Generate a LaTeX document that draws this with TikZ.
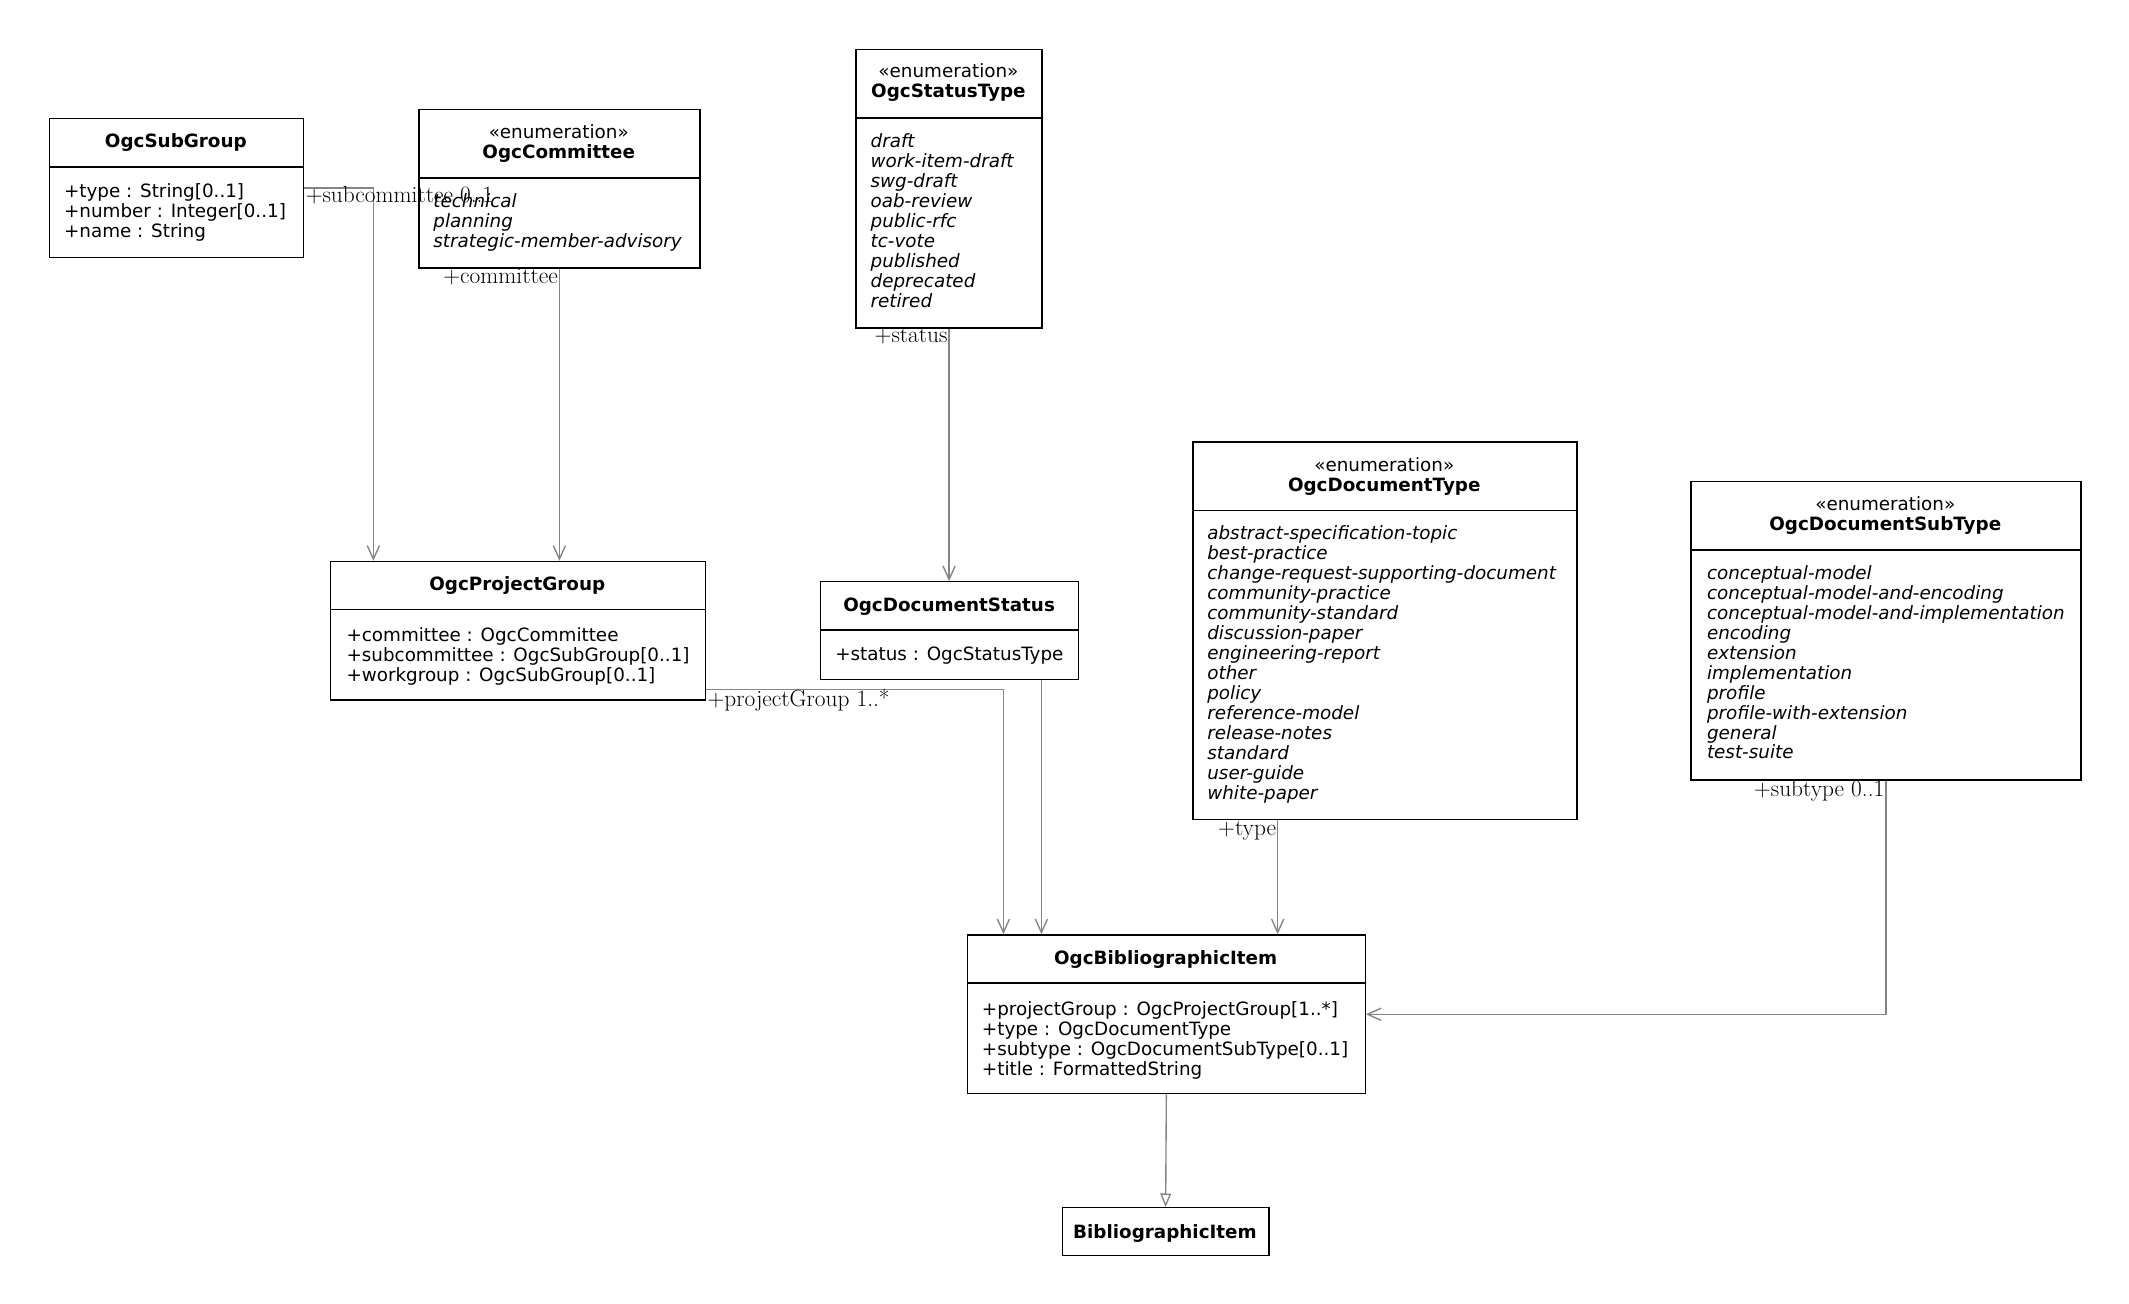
\documentclass[tikz,border=0pt]{standalone}
\usepackage{fontspec}
\newfontfamily\boxfont{DejaVu Sans}
\usetikzlibrary{arrows.meta}
\definecolor{edgegray}{HTML}{858585}
\tikzset{
  cls/.style={draw=black, line width=1pt, fill=white, inner sep=0pt, anchor=north west},
  divider/.style={draw=black, line width=1pt},
  ttl/.style={font=\boxfont\fontsize{13.5}{14.7}\selectfont\bfseries, inner sep=0pt, anchor=base, yshift=-1pt},
  stereo/.style={font=\boxfont\fontsize{13.5}{14.7}\selectfont, inner sep=0pt, anchor=north, align=center, yshift=-1pt},
  attr/.style={font=\boxfont\fontsize{13.5}{14.7}\selectfont, inner sep=0pt, anchor=north west, align=left, yshift=-1pt},
  lit/.style={font=\boxfont\fontsize{13.5}{14.7}\selectfont\itshape, inner sep=0pt, anchor=north west, align=left, yshift=-1pt},
  lbl/.style={font=\fontsize{17.2}{20}\selectfont, inner sep=0pt},
  assoc/.style={draw=edgegray, line width=1pt, -{Straight Barb[length=10pt,width=9pt]}},
  gen/.style={draw=edgegray, line width=1pt, -{Triangle[open, length=10pt, width=8pt, fill=white]}}
}
\begin{document}
\begin{tikzpicture}[x=1pt,y=-1pt]
\fill[white] (0,0) rectangle (1568,960.3);
\useasboundingbox (0,0) rectangle (1568,960.3);

% OgcSubGroup
\node[cls, minimum width=187pt, minimum height=102pt] (sub) at (36,87) {};
\draw[divider] (36,123) -- (223,123);
\node[ttl] (subT) at (129.5,108) {OgcSubGroup};
\node[attr] (subA) at (47,134.2) {\strut+type : String[0..1]\\+number : Integer[0..1]\\+name : String};

% OgcCommittee
\node[cls, minimum width=207pt, minimum height=117pt] (comm) at (308,80) {};
\draw[divider] (308,131) -- (515,131);
\node[stereo] (commT) at (411.5,90.7) {\strut«enumeration»\\\textbf{OgcCommittee}};
\node[lit] (commA) at (319,141.2) {\strut technical\\planning\\strategic-member-advisory};

% OgcStatusType
\node[cls, minimum width=137pt, minimum height=205pt] (stat) at (630,36) {};
\draw[divider] (630,87) -- (767,87);
\node[stereo] (statT) at (698.5,45.7) {\strut«enumeration»\\\textbf{OgcStatusType}};
\node[lit] (statA) at (641,97.2) {\strut draft\\work-item-draft\\swg-draft\\oab-review\\public-rfc\\tc-vote\\published\\deprecated\\retired};

% OgcProjectGroup
\node[cls, minimum width=276pt, minimum height=102pt] (pg) at (243,413) {};
\draw[divider] (243,449) -- (519,449);
\node[ttl] (pgT) at (381,434) {OgcProjectGroup};
\node[attr] (pgA) at (255,461.2) {\strut+committee : OgcCommittee\\+subcommittee : OgcSubGroup[0..1]\\+workgroup : OgcSubGroup[0..1]};

% OgcDocumentStatus
\node[cls, minimum width=190pt, minimum height=72pt] (dstat) at (604,428) {};
\draw[divider] (604,464) -- (794,464);
\node[ttl] (dstatT) at (699,449) {OgcDocumentStatus};
\node[attr] (dstatA) at (615,475.2) {\strut+status : OgcStatusType};

% OgcDocumentType
\node[cls, minimum width=283pt, minimum height=278pt] (dtype) at (878,325) {};
\draw[divider] (878,376) -- (1161,376);
\node[stereo] (dtypeT) at (1019.5,335.7) {\strut«enumeration»\\\textbf{OgcDocumentType}};
\node[lit] (dtypeA) at (889,386.2) {\strut abstract-specification-topic\\best-practice\\change-request-supporting-document\\community-practice\\community-standard\\discussion-paper\\engineering-report\\other\\policy\\reference-model\\release-notes\\standard\\user-guide\\white-paper};

% OgcDocumentSubType
\node[cls, minimum width=287pt, minimum height=220pt] (subt) at (1245,354) {};
\draw[divider] (1245,405) -- (1532,405);
\node[stereo] (subtT) at (1388.5,364.7) {\strut«enumeration»\\\textbf{OgcDocumentSubType}};
\node[lit] (subtA) at (1257,415.2) {\strut conceptual-model\\conceptual-model-and-encoding\\conceptual-model-and-implementation\\encoding\\extension\\implementation\\profile\\profile-with-extension\\general\\test-suite};

% OgcBibliographicItem
\node[cls, minimum width=293pt, minimum height=117pt] (bib) at (712,688) {};
\draw[divider] (712,724) -- (1005,724);
\node[ttl] (bibT) at (858.5,709) {OgcBibliographicItem};
\node[attr] (bibA) at (723,736.2) {\strut+projectGroup : OgcProjectGroup[1..*]\\+type : OgcDocumentType\\+subtype : OgcDocumentSubType[0..1]\\+title : FormattedString};

% BibliographicItem
\node[cls, minimum width=152pt, minimum height=35pt] (bi) at (782,889) {};
\node[ttl] (biT) at (858,911) {BibliographicItem};

% connectors
\coordinate (c1) at ([xshift=32pt]pg.north west);
\draw[assoc] (sub.east) -| (c1);
\node[lbl, anchor=base west] (l1) at ([xshift=1pt,yshift=-10.5pt]sub.east) {+subcommittee 0..1};

\draw[assoc] (comm.south) -- (comm.south |- pg.north);
\node[lbl, anchor=base east] (l2) at ([xshift=-1pt,yshift=-10.5pt]comm.south) {+committee};

\draw[assoc] (stat.south) -- (stat.south |- dstat.north);
\node[lbl, anchor=base east] (l3) at ([xshift=-1pt,yshift=-10.5pt]stat.south) {+status};

\coordinate (c4s) at ([yshift=8pt]pg.south east);
\coordinate (c4e) at ([xshift=27pt]bib.north west);
\draw[assoc] (c4s) -| (c4e);
\node[lbl, anchor=base west] (l4) at ([xshift=1pt,yshift=-4.5pt]pg.south east) {+projectGroup 1..*};

\coordinate (c5) at ([xshift=-28pt]dstat.south east);
\draw[assoc] (c5) -- (c5 |- bib.north);

\coordinate (c6) at ([xshift=63pt]dtype.south west);
\draw[assoc] (c6) -- (c6 |- bib.north);
\node[lbl, anchor=base east] (l6) at ([xshift=-1pt,yshift=-11pt]c6) {+type};

\draw[assoc] (subt.south) |- (bib.east);
\node[lbl, anchor=base east] (l7) at ([xshift=-1pt,yshift=-11.5pt]subt.south) {+subtype 0..1};

\draw[gen] (bib.south) -- (bi.north);
\end{tikzpicture}
\end{document}
